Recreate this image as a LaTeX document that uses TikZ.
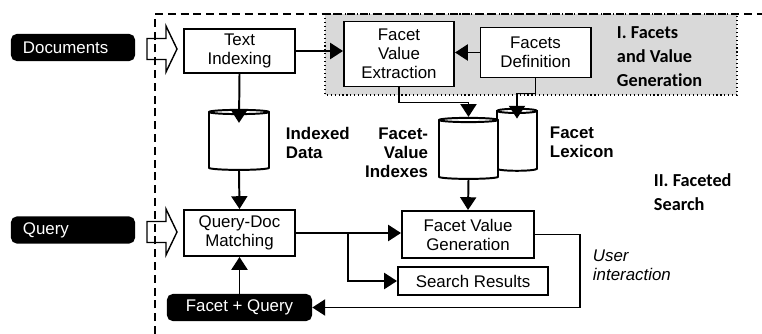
\documentclass[tikz,border=0pt]{standalone}
\usepackage{fontspec}
\setmainfont{Liberation Sans}
\newfontfamily\calibri[Ligatures=NoCommon]{Carlito}
\usetikzlibrary{arrows.meta,shapes.geometric,positioning,calc}
\definecolor{stagebg}{HTML}{D9D9D9}

\begin{document}
\begin{tikzpicture}[
  x=0.025cm, y=-0.025cm,
  every node/.style={font=\fontsize{12}{13.5}\selectfont},
  proc/.style={
    rectangle,
    draw,
    fill=white,
    line width=1.4pt,
    align=center,
    inner sep=1pt
  },
  ext/.style={rectangle, rounded corners=4pt, fill=black, text=white, minimum height=0.675cm, inner ysep=1pt},
  store/.style={cylinder, shape border rotate=90, draw, fill=white, line width=1.4pt, aspect=0.45},
  feed/.style={draw, fill=white, line width=1pt, line join=miter},
  flow/.style={-{Triangle[length=0.32cm,width=0.4cm]}, line width=1.4pt},
  tag/.style={font=\bfseries\fontsize{12}{13.5}\selectfont},
  stage/.style={font=\calibri\bfseries\fontsize{13}{17}\selectfont, align=left}
]
\useasboundingbox (0,0) rectangle (762,334);

% --- stages ---
\draw[dotted, fill=stagebg, line width=0.8pt] (325,14) rectangle (737,95);
\node[stage, anchor=west] (gen) at (612,57) {I. Facets\\and Value\\Generation};
\node[stage, anchor=west] (srch) at (649,192) {II. Faceted\\Search};

% --- inputs ---
\node[ext, text width=2.5cm, inner xsep=0.3cm, align=left] (docs) at (73,47.5) {Documents};
\node[ext, text width=2.5cm, inner xsep=0.3cm, align=left] (query) at (73,230) {Query};
\foreach \y in {49,232} {
  \draw[feed] (147,\y-10.5) -- ++(19,0) -- ++(0,-12.5) -- ++(11,23) -- ++(-11,23) -- ++(0,-12.5) -- ++(-19,0) -- cycle;
}
\draw[dash pattern=on 0.2cm off 0.12cm, line width=1.1pt] (155,334) -- (155,14) -- (762,14);

% --- processing ---
\node[proc, minimum width=2.775cm, minimum height=1.1cm] (tidx) at (239.5,51) {Text\\Indexing};
\node[proc, minimum width=2.75cm, minimum height=1.625cm] (fve) at (399,54) {Facet\\Value\\Extraction};
\node[proc, minimum width=2.75cm, minimum height=1.25cm] (fdef) at (535.5,52.5) {Facets\\Definition};
\node[proc, minimum width=2.775cm, minimum height=1.15cm] (qdm) at (239.5,233) {Query-Doc\\Matching};
\node[proc, minimum width=3.3cm, minimum height=1.175cm] (fvg) at (468,234.5) {Facet Value\\Generation};
\node[proc, minimum width=3.75cm, minimum height=0.7cm] (res) at (473,281) {Search Results};
\node[ext, minimum width=3.625cm] (fq) at (239.5,307.5) {Facet + Query};

% --- stores ---
\node[store, minimum width=1.5cm, minimum height=1.5cm] (idata) at (239,142) {};
\node[store, minimum width=1cm, minimum height=1.55cm] (flex) at (517,142) {};
\node[store, minimum width=1.475cm, minimum height=1.525cm] (fvidx) at (468.5,150.5) {};
\node[tag, anchor=west, align=left] at (281,142.5) {Indexed\\Data};
\node[tag, anchor=east, align=right] at (433,153) {Facet-\\Value\\Indexes};
\node[tag, anchor=west, align=left] at (545,142.5) {Facet\\Lexicon};
\node[anchor=west, align=left, font=\itshape\fontsize{12}{13.5}\selectfont] (usr) at (588,265.5) {User\\interaction};

% --- flows ---
\draw[flow] (tidx.east) -- (tidx.east -| fve.west);
\draw[flow] (fdef.west) -- (fdef.west -| fve.east);
\draw[flow] (tidx.south) -- ([yshift=-0.35cm]idata.top);
\draw[flow] (idata.bottom) -- (qdm.north);
\draw[flow] (fve.south) -- ++(0,15) -| (fvidx.top);
\draw[flow] (fdef.south) -- ++(0,15) -| ([yshift=-0.27cm]flex.top);
\draw[flow] (fvidx.bottom) -- (fvg.north);
\draw[flow] (qdm.east) -- (qdm.east -| fvg.west);
\coordinate (split) at ($(qdm.east)+(52,0)$);
\draw[flow] (split) |- (res.west);
\draw[flow] (fvg.east) -- ++(45,0) |- (fq.east);
\draw[flow] (fq.north) -- (qdm.south);

\end{tikzpicture}
\end{document}
